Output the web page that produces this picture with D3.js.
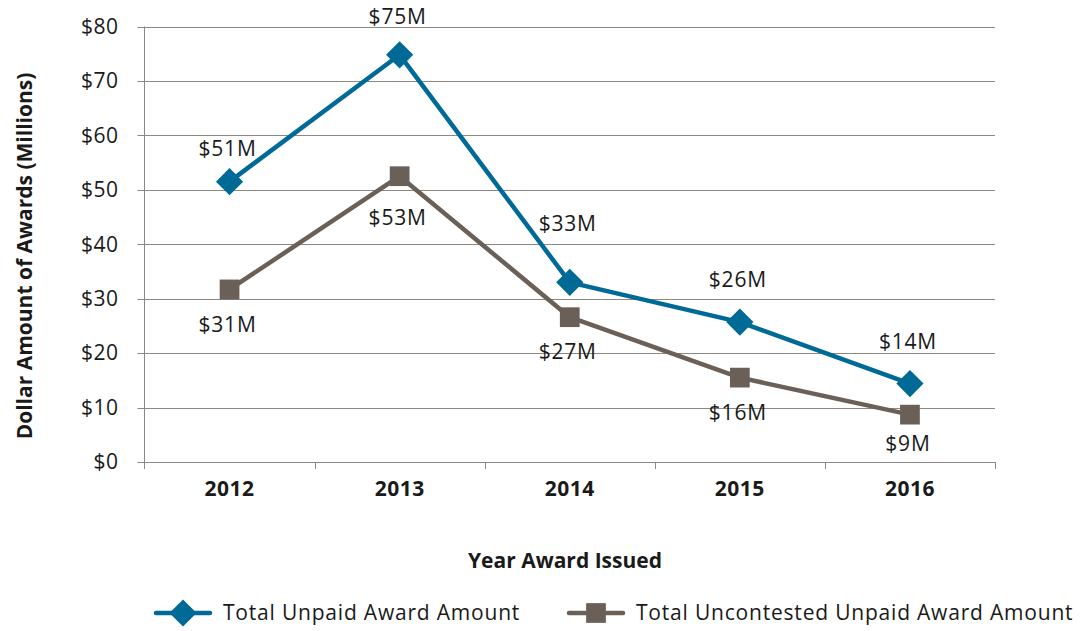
<html>
<head>
<script src="https://d3js.org/d3.v7.min.js"></script>
<style>
  body { margin: 0; background: #fff; }
  svg text { font-family: "Open Sans", "Noto Sans", sans-serif; fill: #1a1a1a; }
</style>
</head>
<body>
<div id="chart"></div>
<script>
var years = ["2012", "2013", "2014", "2015", "2016"];
var unpaid = [51.5, 74.8, 33.0, 25.7, 14.4];
var uncontested = [31.7, 52.5, 26.6, 15.5, 8.7];
var unpaidLabels = ["$51M", "$75M", "$33M", "$26M", "$14M"];
var uncontestedLabels = ["$31M", "$53M", "$27M", "$16M", "$9M"];
var yTicks = [0, 10, 20, 30, 40, 50, 60, 70, 80];
// label offsets from the point (px), like the hand-placed excel labels
var unpaidDy = [-33, -38, -59, -42, -42];
var uncontestedDy = [35, 41, 34, 35, 29];

var W = 1088, H = 631;
var pLeft = 144.5, pRight = 995, pTop = 26.5, pBottom = 462;
var blue = "#006a96", gray = "#6b6058", grid = "#8f8781";
var fs = "21px";

var svg = d3.select("#chart").append("svg").attr("width", W).attr("height", H);

var x = d3.scaleBand().domain(years).range([pLeft, pRight]);
var y = d3.scaleLinear().domain([0, 80]).range([pBottom, pTop]);

// gridlines
svg.append("g").selectAll("line").data(yTicks).enter().append("line")
    .attr("x1", pLeft - 7).attr("x2", pRight)
    .attr("y1", function(d) { return Math.round(y(d)) + 0.5; })
    .attr("y2", function(d) { return Math.round(y(d)) + 0.5; })
    .attr("stroke", grid).attr("stroke-width", 1);

svg.append("g").selectAll("text").data(yTicks).enter().append("text")
    .attr("x", pLeft - 26).attr("y", function(d) { return y(d); })
    .attr("dy", "0.35em").attr("text-anchor", "end")
    .style("font-size", fs).style("letter-spacing", "0.5px")
    .text(function(d) { return "$" + d; });

// y axis line
svg.append("line").attr("x1", pLeft).attr("x2", pLeft).attr("y1", pTop).attr("y2", pBottom + 7)
    .attr("stroke", grid);

// x ticks at band edges
var edges = years.map(function(d) { return x(d); }).concat([pRight]);
svg.append("g").selectAll("line").data(edges.slice(1)).enter().append("line")
    .attr("x1", function(d) { return Math.round(d) + 0.5; })
    .attr("x2", function(d) { return Math.round(d) + 0.5; })
    .attr("y1", pBottom).attr("y2", pBottom + 7).attr("stroke", grid);

svg.append("g").selectAll("text").data(years).enter().append("text")
    .attr("x", function(d) { return x(d) + x.bandwidth() / 2; })
    .attr("y", 496).attr("text-anchor", "middle")
    .style("font-size", fs).style("font-weight", "bold").style("letter-spacing", "0.5px")
    .text(function(d) { return d; });

svg.append("text").attr("x", 565).attr("y", 568).attr("text-anchor", "middle")
    .style("font-size", fs).style("font-weight", "bold")
    .text("Year Award Issued");

svg.append("text").attr("transform", "translate(32,256) rotate(-90)")
    .attr("text-anchor", "middle")
    .style("font-size", fs).style("font-weight", "bold")
    .text("Dollar Amount of Awards (Millions)");

function cx(i) { return x(years[i]) + x.bandwidth() / 2; }

var line = d3.line().x(function(d, i) { return cx(i); }).y(function(d) { return y(d); });

// marker: square, turned 45deg for the diamond
function marker(sel, color, rot, size) {
    sel.append("path")
        .attr("d", d3.symbol().type(d3.symbolSquare).size(size)())
        .attr("transform", "rotate(" + rot + ")")
        .attr("fill", color);
}

function drawSeries(vals, labels, dys, color, rot, size) {
    svg.append("path").datum(vals).attr("d", line)
        .attr("fill", "none").attr("stroke", color).attr("stroke-width", 4.5)
        .attr("stroke-linejoin", "round");
    svg.append("g").selectAll("g").data(vals).enter().append("g")
        .attr("transform", function(d, i) { return "translate(" + cx(i) + "," + y(d) + ")"; })
        .call(marker, color, rot, size);
    svg.append("g").selectAll("text").data(vals).enter().append("text")
        .attr("x", function(d, i) { return cx(i) - 2; })
        .attr("y", function(d, i) { return y(d) + dys[i]; })
        .attr("dy", "0.35em").attr("text-anchor", "middle")
        .style("font-size", fs).style("letter-spacing", "0.8px")
        .text(function(d, i) { return labels[i]; });
}

drawSeries(unpaid, unpaidLabels, unpaidDy, blue, 45, 370);
drawSeries(uncontested, uncontestedLabels, uncontestedDy, gray, 0, 390);

// legend
var legend = [
    {name: "Total Unpaid Award Amount", color: blue, rot: 45, size: 370, x: 156},
    {name: "Total Uncontested Unpaid Award Amount", color: gray, rot: 0, size: 390, x: 569}
];
var lg = svg.append("g").selectAll("g").data(legend).enter().append("g")
    .attr("transform", function(d) { return "translate(" + d.x + ",613)"; });
lg.append("line").attr("x1", 0).attr("x2", 54).attr("y1", 0).attr("y2", 0)
    .attr("stroke", function(d) { return d.color; }).attr("stroke-width", 4.5)
    .attr("stroke-linecap", "round");
lg.each(function(d) {
    d3.select(this).append("g").attr("transform", "translate(27,0)")
        .call(marker, d.color, d.rot, d.size);
});
lg.append("text").attr("x", 67).attr("dy", "0.35em")
    .style("font-size", fs).style("letter-spacing", "0.8px")
    .text(function(d) { return d.name; });
</script>
</body>
</html>
